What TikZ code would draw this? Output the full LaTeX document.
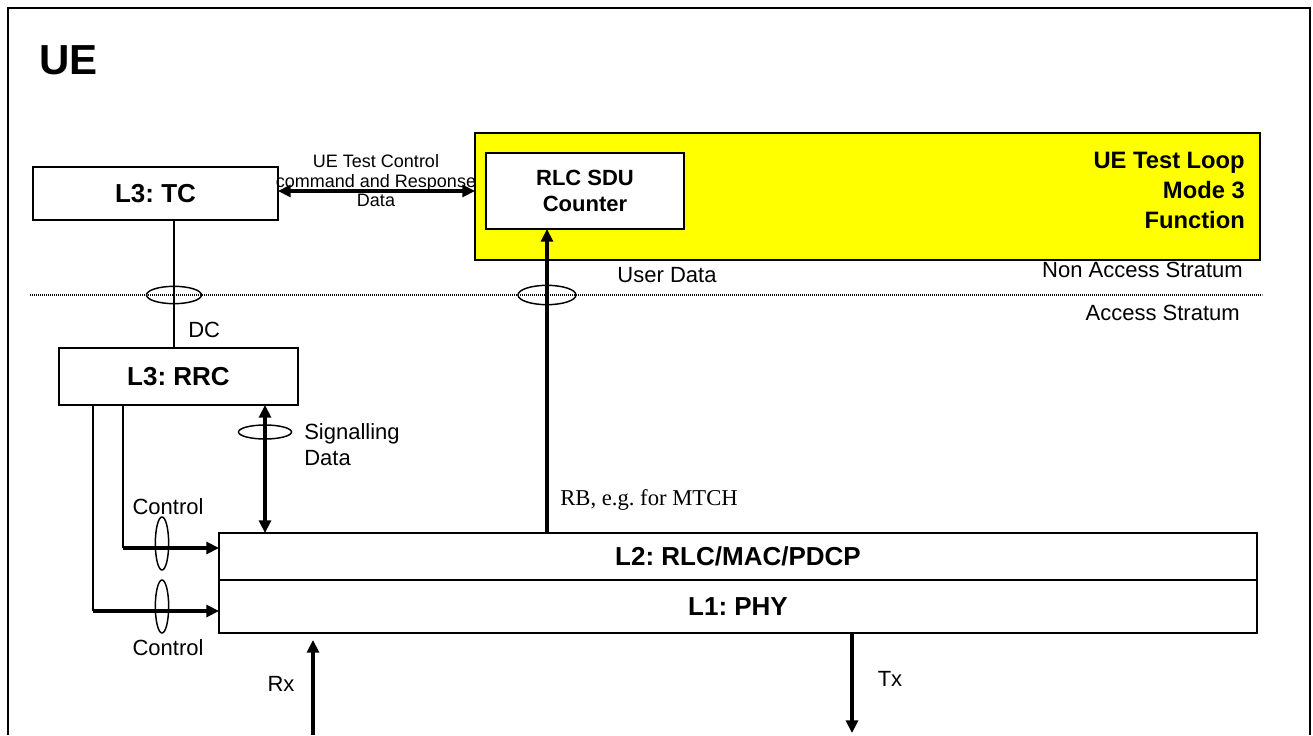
\documentclass[tikz,border=0pt]{standalone}
\usepackage{fontspec}
\setmainfont{Liberation Sans}
\newfontfamily\timesfont{Liberation Serif}
\frenchspacing
\usetikzlibrary{arrows.meta, shapes.geometric}
\definecolor{loopyellow}{RGB}{255,255,0}
\tikzset{>={Triangle[length=9.5pt, width=9pt]}}
\tikzset{
	layer/.style={draw, line width=1pt, inner sep=0pt, outer sep=0pt, font=\bfseries\fontsize{19.5}{22}\selectfont},
	ring/.style={draw, ellipse, line width=1.1pt, inner sep=0pt},
	thickarrow/.style={line width=2.3pt, ->},
	thinline/.style={line width=0.9pt},
	txt/.style={inner sep=0pt, font=\fontsize{16.5}{19.5}\selectfont}
}

\begin{document}
\begin{tikzpicture}[x=0.75pt, y=-0.75pt]
    \useasboundingbox (0,0) rectangle (1313,735);
    \draw[thinline](8,735)--(8,8)--(1310,8)--(1310,735);
    \node[txt, anchor=west, font=\bfseries\fontsize{31.5}{36}\selectfont](ue) at(39,60){UE};
    % non access stratum
    \node[draw, fill=loopyellow, line width=1pt, inner sep=0pt, outer sep=0pt, minimum width=588.75pt, minimum height=95.25pt](loop) at(867.5,196.5){};
    \node[txt, anchor=east, align=right, font=\bfseries\fontsize{17.8}{22.5}\selectfont](looptxt) at(1245,190){UE Test Loop\\Mode 3\\Function};
    \node[layer, fill=white, align=center, font=\bfseries\fontsize{16.5}{19.5}\selectfont, minimum width=148.5pt, minimum height=57pt](rlc) at(585,191){RLC SDU\\Counter};
    \node[layer, minimum width=183.75pt, minimum height=39.75pt](tc) at(155.5,193.5){L3: TC};
    \draw[thickarrow, <->](tc.east |- rlc.west)--(loop.west |- rlc.west);
    \node[txt, align=center, font=\fontsize{13.5}{14.6}\selectfont](tclbl) at(376,181){UE Test Control\\command and Response\\Data};
    % stratum border
    \coordinate(border1) at(30,295);
    \coordinate(border2) at(1262,295);
    \draw[line width=1.6pt, dash pattern=on 0.8pt off 0.7pt](border1)--(border2);
    \node[txt, anchor=east](naslbl) at(1243,270){Non Access Stratum};
    \node[txt, anchor=east](aslbl) at(1240,313){Access Stratum};
    % access stratum
    \node[layer, minimum width=179.25pt, minimum height=42.75pt](rrc) at(178.5,376.5){L3: RRC};
    \node[layer, minimum width=778.5pt, minimum height=35.25pt](l2) at(738,556.5){L2: RLC/MAC/PDCP};
    \node[layer, minimum width=778.5pt, minimum height=39.75pt, anchor=north](l1) at(l2.south){L1: PHY};
    % DC
    \coordinate(dcring) at(174,295);
    \draw[thinline](tc.south -| dcring)--(rrc.north -| dcring);
    \node[ring, minimum width=41.25pt, minimum height=13pt](ring1) at(dcring){};
    \node[txt, anchor=west](dclbl) at(188,330){DC};
    % user data
    \coordinate(udring) at(547,295);
    \draw[thickarrow](l2.north -| udring)--(rlc.south -| udring);
    \node[ring, minimum width=43.5pt, minimum height=14.5pt](ring2) at(udring){};
    \node[txt](udlbl) at(667,275){User Data};
    \node[txt, anchor=west, font=\timesfont\fontsize{17}{19}\selectfont](rblbl) at(560,500){RB, e.g. for MTCH};
    % signalling
    \coordinate(sigring) at(265,432);
    \draw[thickarrow, <->](rrc.south -| sigring)--(l2.north -| sigring);
    \node[ring, minimum width=39.75pt, minimum height=10.5pt](ring3) at(sigring){};
    \node[txt, anchor=west, align=left](siglbl) at(304,445){Signalling\\Data};
    % control
    \coordinate(ctrlhi) at(123,548);
    \coordinate(ctrllo) at(93,611);
    \draw[thinline](rrc.south -| ctrlhi)--(ctrlhi);
    \draw[thinline](rrc.south -| ctrllo)--(ctrllo);
    \draw[thickarrow](ctrlhi)--(l2.west |- ctrlhi);
    \draw[thickarrow](ctrllo)--(l1.west |- ctrllo);
    \node[ring, minimum width=10pt, minimum height=39.75pt](ring4) at(162,543.5){};
    \node[ring, minimum width=10pt, minimum height=39.75pt](ring5) at(162,606.5){};
    \node[txt](ctrlhilbl) at(168,507){Control};
    \node[txt](ctrllolbl) at(168,648){Control};
    % Rx, Tx
    \coordinate(rxend) at(313,735);
    \coordinate(rxtip) at(313,640);
    \draw[thickarrow](rxend)--(rxtip);
    \node[txt](rxlbl) at(281,684){Rx};
    \coordinate(txend) at(852,733);
    \draw[thickarrow](l1.south -| txend)--(txend);
    \node[txt](txlbl) at(890,679){Tx};
\end{tikzpicture}
\end{document}
